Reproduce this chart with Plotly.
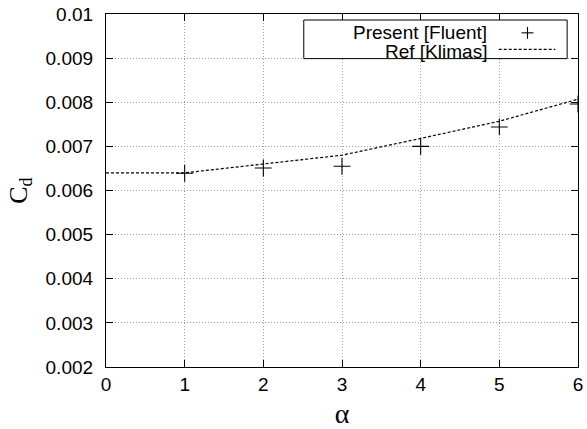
import plotly.graph_objects as go

alpha = [0, 1, 2, 3, 4, 5, 6]
cd_ref = [0.0064, 0.0064, 0.0066, 0.0068, 0.00718, 0.00757, 0.00807]
alpha_fluent = [1, 2, 3, 4, 5, 6]
cd_fluent = [0.00639, 0.00651, 0.00655, 0.0070, 0.00744, 0.00796]
x_ticks = [0, 1, 2, 3, 4, 5, 6]
y_ticks = [0.002, 0.003, 0.004, 0.005, 0.006, 0.007, 0.008, 0.009, 0.01]
y_tick_text = ["0.002", "0.003", "0.004", "0.005", "0.006", "0.007", "0.008", "0.009", "0.01"]

fig = go.Figure()
fig.add_trace(go.Scatter(x=alpha, y=cd_ref, mode="lines", name="Ref [Klimas]",
                         line=dict(color="black", width=1.2, dash="3px,2px")))
fig.add_trace(go.Scatter(x=alpha_fluent, y=cd_fluent, mode="markers", name="Present [Fluent]",
                         marker=dict(symbol="cross-thin", size=12,
                                     line=dict(color="black", width=1.1))))

axis_common = dict(showline=True, linecolor="black", linewidth=1.2, mirror="ticks",
                   ticks="inside", ticklen=7, tickcolor="black", tickwidth=1,
                   showgrid=True, gridcolor="#a0a0a0", gridwidth=1, griddash="1px,2px",
                   zeroline=False, ticklabeloverflow="allow",
                   tickfont=dict(family="Liberation Sans, Arial", size=19, color="black"))

fig.update_xaxes(range=[0, 6], tickvals=x_ticks, ticktext=[str(v) for v in x_ticks],
                 ticklabelstandoff=0,
                 title=dict(text="α", font=dict(family="Liberation Serif, Times New Roman", size=28, color="black"),
                            standoff=10),
                 **axis_common)
fig.update_yaxes(range=[0.002, 0.01], tickvals=y_ticks, ticktext=y_tick_text,
                 ticklabelstandoff=8,
                 title=dict(text="C<sub>d</sub>", font=dict(family="Liberation Serif, Times New Roman", size=26, color="black"),
                            standoff=10),
                 **axis_common)

# manual gnuplot-style legend (text left, sample right)
shapes = [
    dict(type="rect", xref="paper", yref="paper", x0=0.419, x1=0.977, y0=0.8736, y1=0.983,
         line=dict(color="black", width=1), fillcolor="white", layer="above"),
    dict(type="line", xref="paper", yref="paper", x0=0.832, x1=0.952, y0=0.8997, y1=0.8997,
         line=dict(color="black", width=1.2, dash="3px,2px"), layer="above"),
    dict(type="line", xref="paper", yref="paper", x0=0.893 - 0.0126, x1=0.893 + 0.0126, y0=0.9466, y1=0.9466,
         line=dict(color="black", width=1.1), layer="above"),
    dict(type="line", xref="paper", yref="paper", x0=0.893, x1=0.893, y0=0.9466 - 0.0169, y1=0.9466 + 0.0169,
         line=dict(color="black", width=1.1), layer="above"),
]
annotations = [
    dict(text="Present [Fluent]", xref="paper", yref="paper", x=0.811, y=0.948,
         xanchor="right", yanchor="middle", showarrow=False,
         font=dict(family="Liberation Sans, Arial", size=19, color="black")),
    dict(text="Ref [Klimas]", xref="paper", yref="paper", x=0.811, y=0.8947,
         xanchor="right", yanchor="middle", showarrow=False,
         font=dict(family="Liberation Sans, Arial", size=19, color="black")),
]

fig.update_layout(width=587, height=429, margin=dict(l=106, r=4, t=12, b=61),
                  plot_bgcolor="white", paper_bgcolor="white", showlegend=False,
                  shapes=shapes, annotations=annotations)

fig.write_html("out.html")
